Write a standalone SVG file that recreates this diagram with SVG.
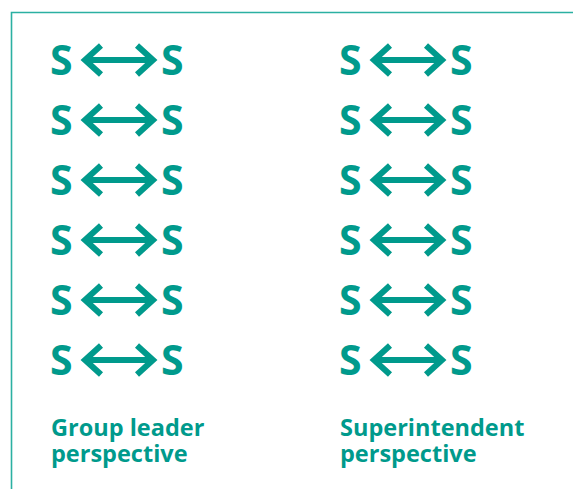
<svg xmlns="http://www.w3.org/2000/svg" width="574" height="489" viewBox="0 0 574 489">
  <style>
    .s { font-family: "Open Sans", "Liberation Sans", sans-serif; font-weight: 700; font-size: 41px; fill: #009a8c; }
    .label { font-family: "Open Sans", "Liberation Sans", sans-serif; font-weight: 700; font-size: 23.5px; fill: #009a8c; }
    .link { fill: none; stroke: #009a8c; stroke-width: 6; marker-start: url(#head); marker-end: url(#head); }
    .frame { fill: none; stroke: #2bb0a2; stroke-width: 1.6; }
  </style>
  <defs>
    <marker id="head" markerUnits="userSpaceOnUse" orient="auto-start-reverse" refX="0" refY="0" markerWidth="30" markerHeight="40" overflow="visible">
      <path d="M -16 -14.5 L 0 0 L -16 14.5" fill="none" stroke="#009a8c" stroke-width="6" stroke-linejoin="miter"/>
    </marker>
  </defs>

  <!-- open frame: top and left edges -->
  <path class="frame" d="M 11.5 489 L 11.5 12.5 L 573 12.5"/>

  <!-- connectors -->
  <g id="connectors">
    <path class="link" d="M 85 60 H 153"/>
    <path class="link" d="M 85 120 H 153"/>
    <path class="link" d="M 85 180 H 153"/>
    <path class="link" d="M 85 240 H 153"/>
    <path class="link" d="M 85 300 H 153"/>
    <path class="link" d="M 85 360 H 153"/>
    <path class="link" d="M 374 60 H 442"/>
    <path class="link" d="M 374 120 H 442"/>
    <path class="link" d="M 374 180 H 442"/>
    <path class="link" d="M 374 240 H 442"/>
    <path class="link" d="M 374 300 H 442"/>
    <path class="link" d="M 374 360 H 442"/>
  </g>

  <!-- group leader column -->
  <g id="gl-1a"><text class="s" x="50" y="74.5">S</text></g>
  <g id="gl-1b"><text class="s" x="161" y="74.5">S</text></g>
  <g id="gl-2a"><text class="s" x="50" y="134.5">S</text></g>
  <g id="gl-2b"><text class="s" x="161" y="134.5">S</text></g>
  <g id="gl-3a"><text class="s" x="50" y="194.5">S</text></g>
  <g id="gl-3b"><text class="s" x="161" y="194.5">S</text></g>
  <g id="gl-4a"><text class="s" x="50" y="254.5">S</text></g>
  <g id="gl-4b"><text class="s" x="161" y="254.5">S</text></g>
  <g id="gl-5a"><text class="s" x="50" y="314.5">S</text></g>
  <g id="gl-5b"><text class="s" x="161" y="314.5">S</text></g>
  <g id="gl-6a"><text class="s" x="50" y="374.5">S</text></g>
  <g id="gl-6b"><text class="s" x="161" y="374.5">S</text></g>

  <!-- superintendent column -->
  <g id="su-1a"><text class="s" x="339" y="74.5">S</text></g>
  <g id="su-1b"><text class="s" x="450" y="74.5">S</text></g>
  <g id="su-2a"><text class="s" x="339" y="134.5">S</text></g>
  <g id="su-2b"><text class="s" x="450" y="134.5">S</text></g>
  <g id="su-3a"><text class="s" x="339" y="194.5">S</text></g>
  <g id="su-3b"><text class="s" x="450" y="194.5">S</text></g>
  <g id="su-4a"><text class="s" x="339" y="254.5">S</text></g>
  <g id="su-4b"><text class="s" x="450" y="254.5">S</text></g>
  <g id="su-5a"><text class="s" x="339" y="314.5">S</text></g>
  <g id="su-5b"><text class="s" x="450" y="314.5">S</text></g>
  <g id="su-6a"><text class="s" x="339" y="374.5">S</text></g>
  <g id="su-6b"><text class="s" x="450" y="374.5">S</text></g>

  <!-- column captions (two lines each) -->
  <g id="caption-group-leader">
    <text class="label" x="51" y="436">Group leader<tspan x="51" y="462">perspective</tspan></text>
  </g>
  <g id="caption-superintendent">
    <text class="label" x="340" y="436">Superintendent<tspan x="340" y="462">perspective</tspan></text>
  </g>
</svg>
